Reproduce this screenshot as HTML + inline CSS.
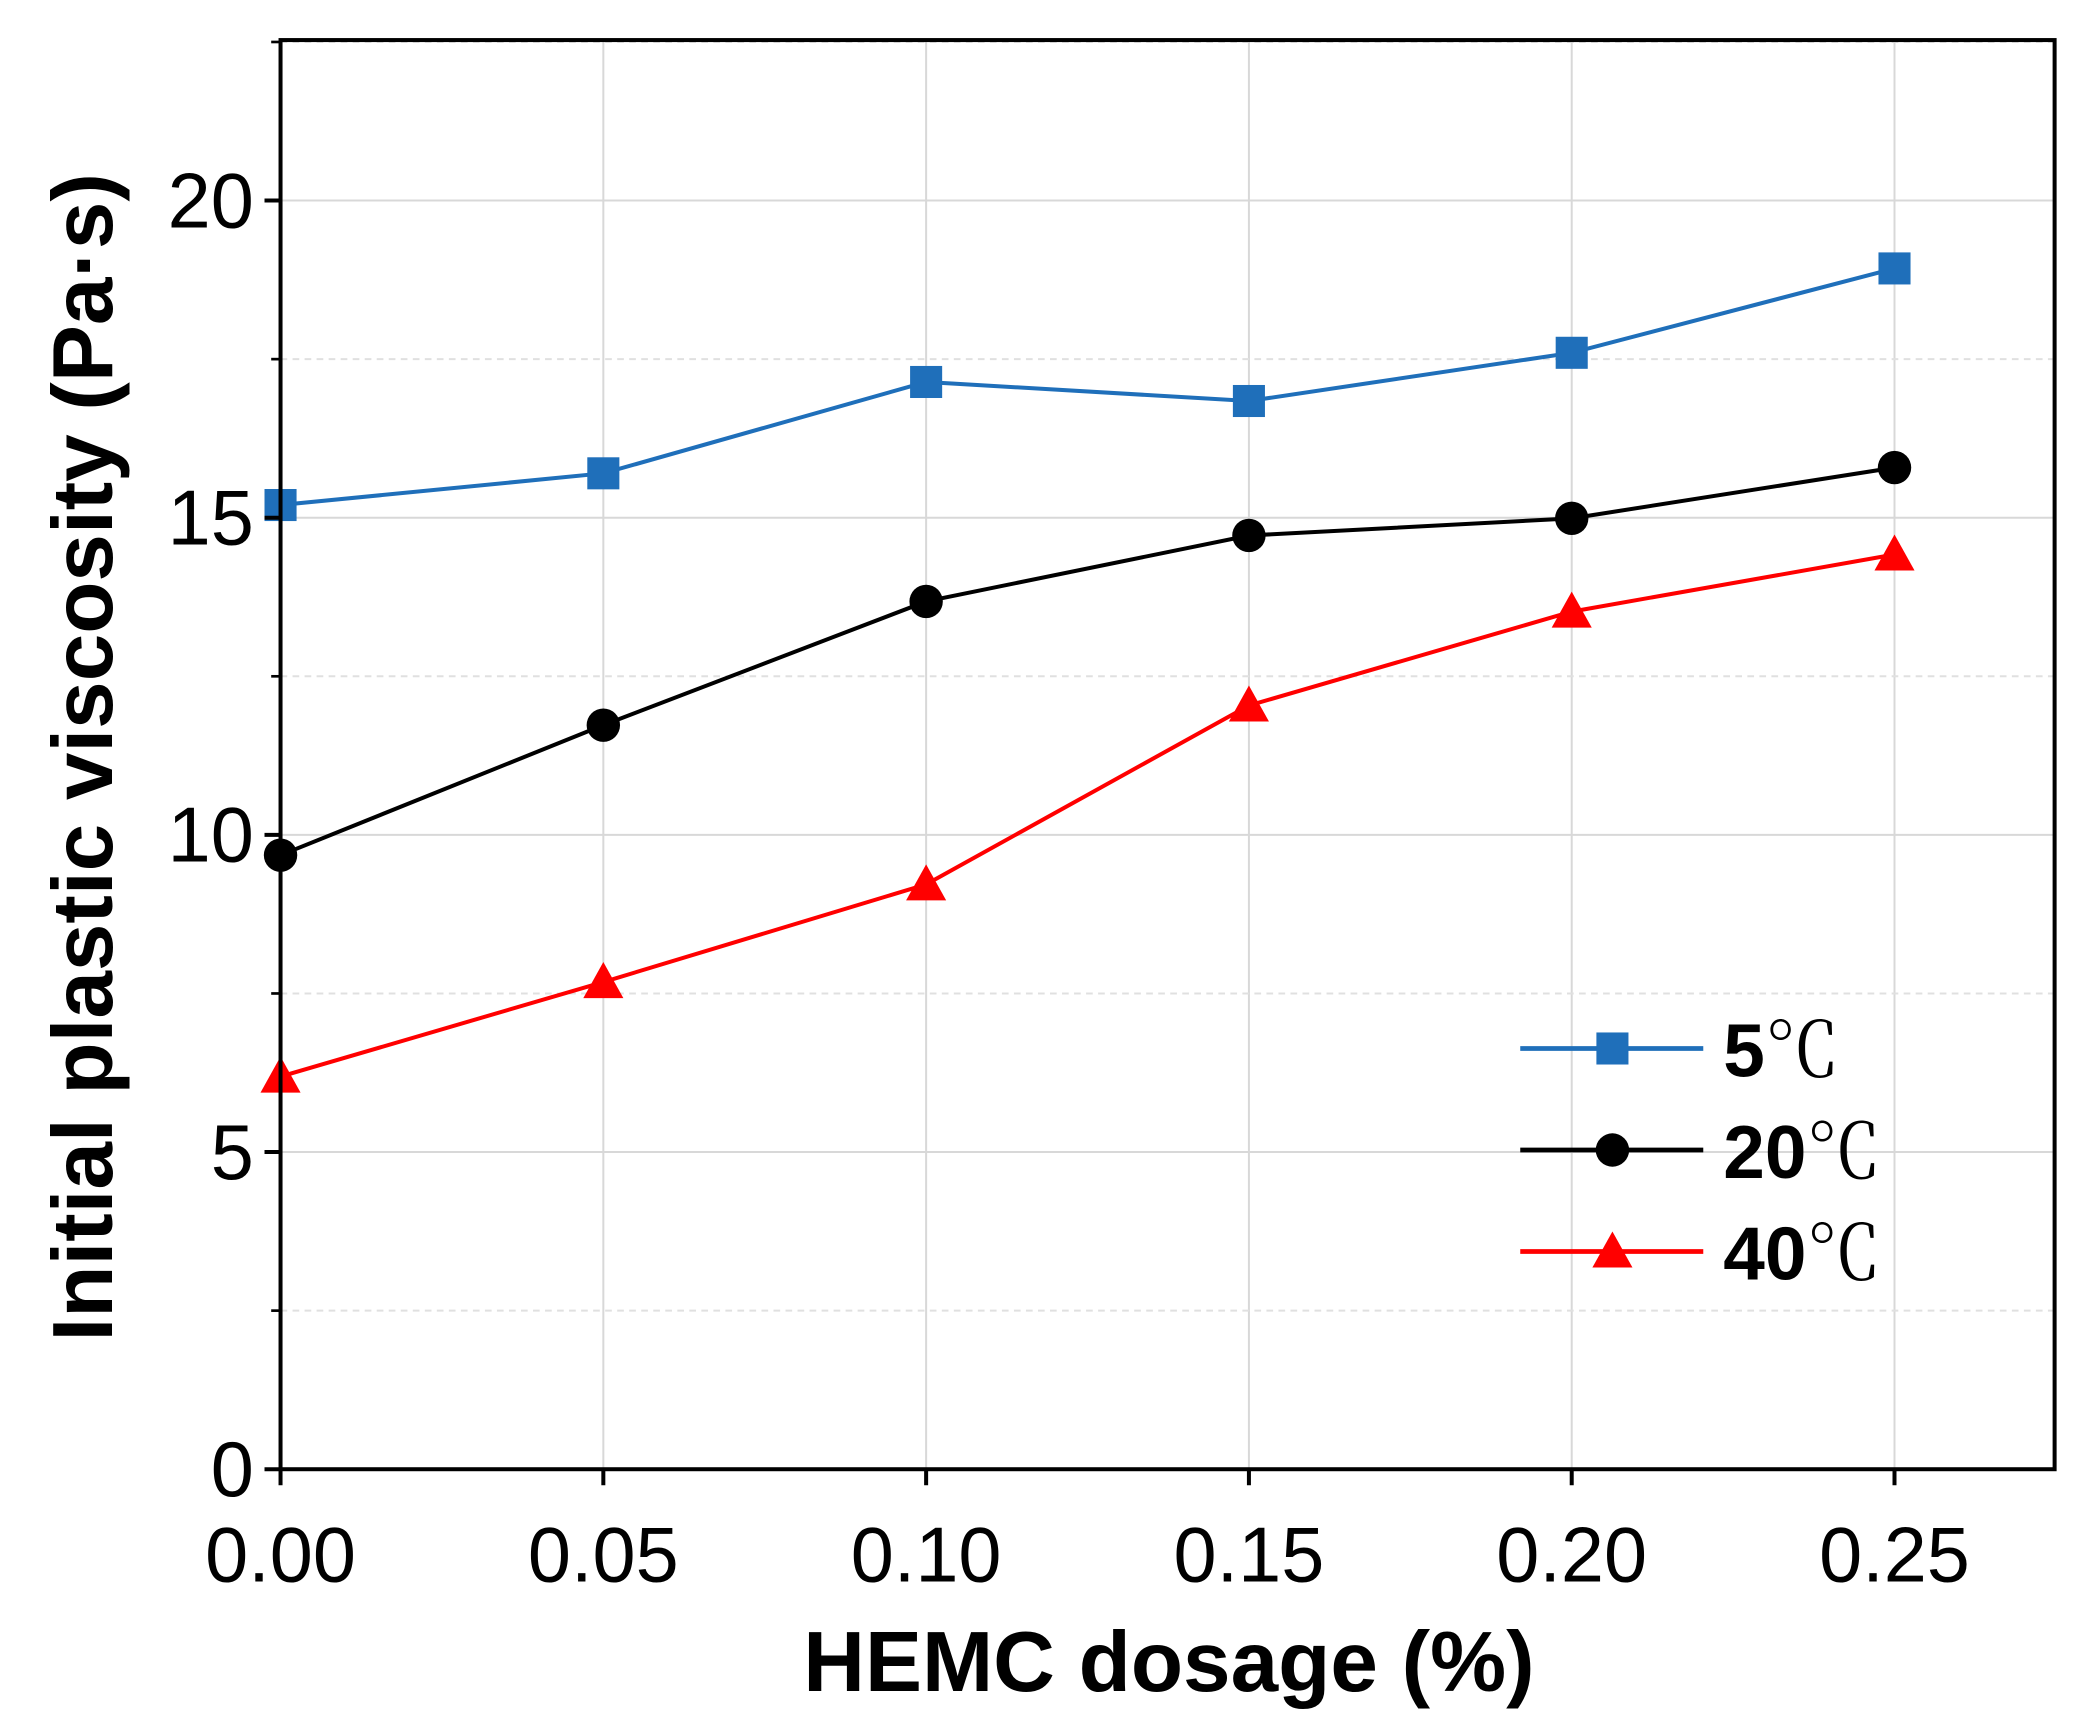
<!DOCTYPE html>
<html><head><meta charset="utf-8"><style>html,body{margin:0;padding:0;background:#fff}svg{display:block}</style></head>
<body>
<svg id="chart" width="2084" height="1727" viewBox="0 0 1560 1293" preserveAspectRatio="none" xmlns="http://www.w3.org/2000/svg" font-family="'Liberation Sans', 'Noto Sans CJK SC', sans-serif">
<g id="grid"></g>
<g id="series"></g>
<rect x="210" y="30" width="1328" height="1070" fill="none" stroke="#000" stroke-width="3"/>
<g id="ticks"></g>
<text x="875" y="1266" text-anchor="middle" font-size="64" font-weight="bold">HEMC dosage (%)</text>
<text transform="translate(84,567) rotate(-90)" text-anchor="middle" font-size="64" font-weight="bold">Initial plastic viscosity (Pa·s)</text>
<g id="legend"></g>
</svg>
<script>
const categories = [0, 0.05, 0.10, 0.15, 0.20, 0.25];
const xTickLabels = ["0.00","0.05","0.10","0.15","0.20","0.25"];
const yTicks = [0,5,10,15,20];
const series5 = [15.2, 15.7, 17.14, 16.84, 17.6, 18.93];
const series20 = [9.68, 11.73, 13.68, 14.72, 14.99, 15.79];
const series40 = [6.19, 7.68, 9.22, 12.04, 13.52, 14.42];
const seriesNames = ["5", "20", "40"];

const NS = "http://www.w3.org/2000/svg";
const X0=210, X1=1538, Y0=1100, Y1=30, XMAX=0.2748, YMAX=22.53;
const xs = v => X0 + v/XMAX*(X1-X0);
const ys = v => Y0 - v/YMAX*(Y0-Y1);
function mk(tag, attrs, parent){const e=document.createElementNS(NS,tag);for(const k in attrs)e.setAttribute(k,attrs[k]);parent.appendChild(e);return e;}
const grid=document.getElementById('grid'), ticks=document.getElementById('ticks'), sg=document.getElementById('series'), lg=document.getElementById('legend');

categories.forEach((c,i)=>{
  const x=xs(c);
  const g=mk('line',{x1:x,x2:x,y1:Y1,y2:Y0,stroke:'#d8d8d8','stroke-width':1.5},grid);
  
  
  const t=mk('line',{x1:x,x2:x,y1:Y0,y2:Y0+12,stroke:'#000','stroke-width':3},ticks);
  
  
  const l=mk('text',{x:x,y:1184,'text-anchor':'middle','font-size':58},ticks);
  l.textContent=xTickLabels[i];
  
  
});
yTicks.forEach(v=>{
  const y=ys(v);
  if(v>0){const g=mk('line',{x1:X0,x2:X1,y1:y,y2:y,stroke:'#d8d8d8','stroke-width':1.5},grid);
  
  }
  const m=ys(v+2.5);
  const d=mk('line',{x1:X0,x2:X1,y1:m,y2:m,stroke:'#e0e0e0','stroke-width':1.5,'stroke-dasharray':'5,4'},grid);
  
  
  const t=mk('line',{x1:X0-12,x2:X0,y1:y,y2:y,stroke:'#000','stroke-width':3},ticks);
  
  
  const mt=mk('line',{x1:X0-7,x2:X0,y1:m,y2:m,stroke:'#000','stroke-width':2},ticks);
  
  
  const l=mk('text',{x:X0-20,y:y+20,'text-anchor':'end','font-size':58},ticks);
  l.textContent=String(v);
  
  
});

function marker(type,x,y,color,parent){
  let e;
  if(type==='square') e=mk('rect',{x:x-12,y:y-12,width:24,height:24,fill:color},parent);
  else if(type==='circle') e=mk('circle',{cx:x,cy:y,r:12.5,fill:color},parent);
  else e=mk('polygon',{points:`${x},${y-15} ${x-15},${y+12} ${x+15},${y+12}`,fill:color},parent);
  return e;
}
const defs=[[series5,'#1f6fba','square'],[series20,'#000','circle'],[series40,'#f00','triangle']];
defs.forEach(([vals,color,type],si)=>{
  const pts=vals.map((v,i)=>xs(categories[i])+','+ys(v)).join(' ');
  const pl=mk('polyline',{points:pts,fill:'none',stroke:color,'stroke-width':3},sg);
  
  
  vals.forEach((v,i)=>{
    const m=marker(type,xs(categories[i]),ys(v),color,sg);
    
    
  });
  const ly=785+si*76;
  const ll=mk('line',{x1:1138,x2:1275,y1:ly,y2:ly,stroke:color,'stroke-width':3.5},lg);
  
  
  const lm=marker(type,1207,ly,color,lg);
  
  
  const lt=mk('text',{x:1290,y:ly+21,'font-size':56},lg);
  lt.innerHTML='<tspan font-weight="bold">'+seriesNames[si]+'</tspan><tspan font-family="\'Noto Serif CJK SC\', serif">℃</tspan>';
  
  
});
</script>
</body></html>
